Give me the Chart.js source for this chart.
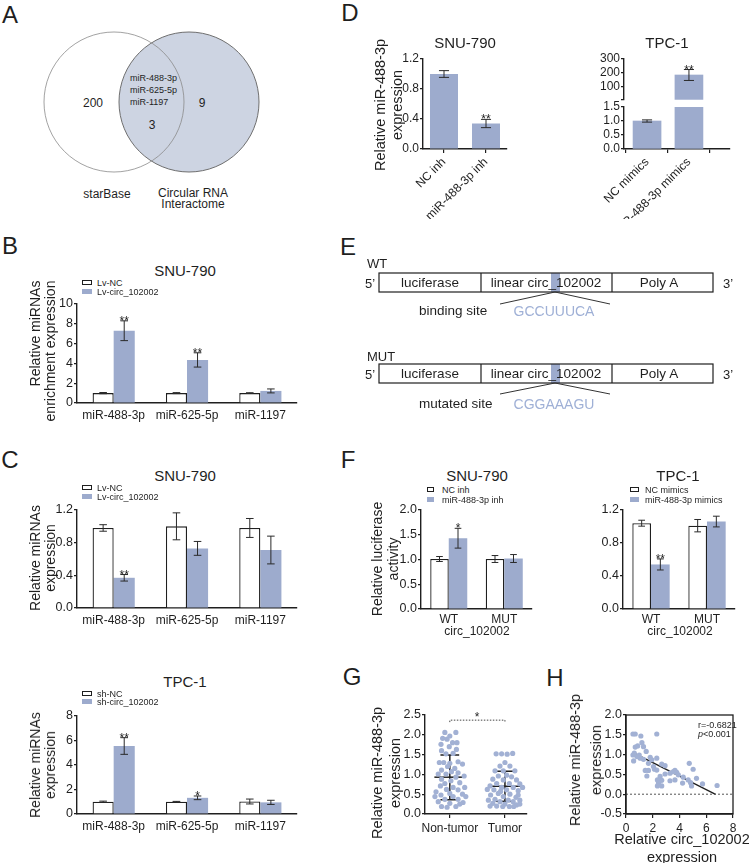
<!DOCTYPE html>
<html>
<head>
<meta charset="utf-8">
<title>circ_102002 / miR-488-3p figure</title>
<script src="https://cdn.jsdelivr.net/npm/chart.js@4.4.1/dist/chart.umd.min.js"></script>
<style>
  body { margin: 0; background: #fff; }
  #fig { position: relative; width: 749px; height: 863px; overflow: hidden; font-family: Arial, 'Liberation Sans', sans-serif; color: #1f1f1f; }
  #fig canvas, #fig svg, .t, .box { position: absolute; }
  .t { white-space: nowrap; line-height: 1; }
</style>
</head>
<body>
<div id="fig">
<svg width="749" height="863" style="left:0;top:0">
  <!-- A: venn -->
  <circle cx="189" cy="102" r="70" fill="#cdd4e2" stroke="#6f6f6f" stroke-width="1"/>
  <circle cx="114" cy="102" r="70" fill="none" stroke="#8a8a8a" stroke-width="0.8"/>
  <!-- E: reporter constructs -->
  <rect x="551" y="273" width="9" height="19" fill="#9dabcd"/>
  <rect x="379" y="273" width="334" height="19" fill="none" stroke="#1f1f1f" stroke-width="1.2"/>
  <line x1="481" y1="273" x2="481" y2="292" stroke="#1f1f1f" stroke-width="1.2"/>
  <line x1="612" y1="273" x2="612" y2="292" stroke="#1f1f1f" stroke-width="1.2"/>
  <polyline points="500,304 555,292 610,304" fill="none" stroke="#333" stroke-width="1"/>
  <rect x="551" y="364" width="9" height="19" fill="#9dabcd"/>
  <rect x="379" y="364" width="334" height="19" fill="none" stroke="#1f1f1f" stroke-width="1.2"/>
  <line x1="481" y1="364" x2="481" y2="383" stroke="#1f1f1f" stroke-width="1.2"/>
  <line x1="612" y1="364" x2="612" y2="383" stroke="#1f1f1f" stroke-width="1.2"/>
  <polyline points="500,394 555,383 610,394" fill="none" stroke="#333" stroke-width="1"/>
</svg>
</div>
<script>
const F = "Arial, 'Liberation Sans', sans-serif";
const INK = '#1f1f1f';
const BLUE = '#9dabcd';
const DOT = '#a2b1d4';
Chart.defaults.font.family = F;
Chart.defaults.color = INK;

// ---- data ----
const mirCats = ['miR-488-3p', 'miR-625-5p', 'miR-1197'];

// B: enrichment in SNU-790
const bNC = [1.0, 1.0, 1.0];
const bNCErr = [0.06, 0.05, 0.04];
const bCirc = [7.3, 4.35, 1.22];
const bCircErr = [1.0, 0.72, 0.2];
const bSig = ['**', '**', ''];
const bY = [0, 10, 2, 0];

// C: SNU-790
const cSnuNC = [0.98, 1.0, 0.98];
const cSnuNCErr = [0.04, 0.165, 0.116];
const cSnuCirc = [0.37, 0.73, 0.71];
const cSnuCircErr = [0.04, 0.085, 0.17];
const cSnuSig = ['**', '', ''];
const cSnuY = [0, 1.2, 0.4, 1];

// C: TPC-1
const cTpcNC = [1.0, 1.0, 1.02];
const cTpcNCErr = [0.05, 0.03, 0.2];
const cTpcSh = [5.55, 1.32, 0.95];
const cTpcShErr = [0.68, 0.15, 0.17];
const cTpcSig = ['**', '*', ''];
const cTpcY = [0, 8, 2, 0];

// D
const dSnuCats = ['NC inh', 'miR-488-3p inh'];
const dSnuVals = [1.0, 0.34];
const dSnuErr = [0.045, 0.055];
const dSnuSig = ['', '**'];
const dSnuY = [0, 1.2, 0.4, 1];
const dTpcCats = ['NC mimics', 'miR-488-3p mimics'];
const dTpcVals = [1.0, 183];
const dTpcErr = [0.04, 40];
const dTpcSig = ['', '**'];
const dTpcHighY = [0, 300, 100, 0];
const dTpcLowY = [0, 1.5, 0.5, 1];

// F
const fCats = ['WT', 'MUT'];
const fSnuNC = [1.01, 1.01];
const fSnuNCErr = [0.05, 0.07];
const fSnuInh = [1.43, 1.02];
const fSnuInhErr = [0.2, 0.08];
const fSnuSig = ['*', ''];
const fSnuY = [0, 2, 0.5, 1];
const fTpcNC = [1.04, 1.01];
const fTpcNCErr = [0.036, 0.075];
const fTpcMim = [0.54, 1.06];
const fTpcMimErr = [0.067, 0.065];
const fTpcSig = ['**', ''];
const fTpcY = [0, 1.2, 0.4, 1];

// G
const gCats = ['Non-tumor', 'Tumor'];
const gNonVals = [2.06,2.06,1.97,1.91,1.89,1.80,1.80,1.76,1.70,1.60,1.63,1.52,1.53,1.30,1.30,1.32,1.28,1.26,1.20,1.15,1.11,1.07,1.04,1.01,1.01,0.96,0.93,0.88,0.84,0.79,0.77,0.71,0.67,0.67,0.62,0.61,0.56,0.52,0.50,0.48,0.44,0.44,0.44,0.37,0.37,0.31,0.29,0.27,0.19,0.17,0.19,0.25];
const gNonJit = [-0.09,0.11,0,-0.13,-0.05,0.05,0.13,-0.16,-0.01,-0.15,0.12,-0.07,0.06,-0.19,-0.11,0.15,0,0.23,-0.04,0.09,-0.15,0.03,0.15,-0.07,-0.21,0.26,0.11,-0.15,0.02,0.18,-0.09,-0.17,0.27,0.06,-0.06,0.15,-0.25,0,0.23,-0.16,-0.27,0.06,0.29,-0.09,0.15,-0.21,0.24,0,-0.15,-0.05,0.11,0.18];
const gTumVals = [1.52,1.52,1.51,1.53,1.30,1.21,1.21,1.09,1.09,1.09,0.98,0.96,0.94,0.88,0.86,0.86,0.77,0.77,0.76,0.71,0.67,0.67,0.61,0.61,0.59,0.52,0.50,0.48,0.44,0.42,0.37,0.35,0.35,0.35,0.31,0.31,0.27,0.25,0.23,0.20,0.19,0.19,0.19,0.20,0.25,0.57,0.67,0.62,0.48];
const gTumJit = [-0.16,-0.06,0.04,0.14,0,-0.09,0.09,-0.18,-0.03,0.18,0.03,-0.12,0.12,-0.22,-0.03,0.21,-0.15,0.08,0.27,-0.27,-0.06,0.15,-0.2,0.03,0.24,-0.12,0.09,-0.26,-0.03,0.2,-0.18,-0.3,0.06,0.27,-0.09,0.15,-0.22,0,0.21,-0.15,-0.04,0.08,0.16,-0.27,0.27,-0.08,0.32,-0.32,0.24];
const gMean = [0.93, 0.70];
const gSdLow = [0.36, 0.32];
const gSdHigh = [1.49, 1.08];
const gBracket = 2.37;
const gY = [0, 2.5, 0.5, 1];

// H
const hX = [0.52,0.69,1.11,2.30,1.19,0.87,1.31,0.69,0.62,0.52,0.99,1.51,1.06,0.82,0.57,1.31,1.81,1.93,2.30,1.68,2.67,2.92,1.44,1.68,2.13,2.30,2.05,1.56,2.55,3.29,3.66,3.79,3.91,2.35,2.67,2.43,3.29,3.66,4.28,4.73,5.02,4.65,4.83,4.90,5.27,5.72,6.81,2.35,2.67,4.23,2.92,3.54];
const hY = [1.52,1.52,1.47,1.52,1.30,1.22,1.20,1.19,1.04,0.99,0.99,1.08,0.91,0.95,0.84,0.88,0.93,0.87,0.91,0.78,0.76,0.72,0.60,0.60,0.63,0.61,0.70,0.46,0.45,0.53,0.60,0.55,0.49,0.36,0.35,0.28,0.34,0.36,0.43,0.78,0.63,0.36,0.29,0.21,0.40,0.26,0.22,0.21,0.21,0.28,0.51,0.57];
const hFitX = [0.6, 6.7];
const hSlope = -0.171, hIntercept = 1.14;
const hXT = [0, 8, 2, 0];
const hYT = [-0.5, 2, 0.5, 1];

const fig = document.getElementById('fig');

// ---- html text ----
function txt(html, x, y, size, opt) {
  opt = opt || {};
  const d = document.createElement('div');
  d.className = 't';
  d.innerHTML = html;
  d.style.left = x + 'px';
  d.style.top = y + 'px';
  d.style.fontSize = size + 'px';
  if (opt.color) d.style.color = opt.color;
  if (opt.lh) { d.style.lineHeight = opt.lh + 'px'; d.style.textAlign = opt.ta || 'center'; }
  const ax = opt.align === 'left' ? '0' : (opt.align === 'right' ? '-100%' : '-50%');
  d.style.transform = 'translate(' + ax + ',-50%)' + (opt.rot ? ' rotate(' + opt.rot + 'deg)' : '');
  fig.appendChild(d);
}

function key(x, y, w, h, filled, label, tx) {
  const b = document.createElement('div');
  b.className = 'box';
  Object.assign(b.style, {
    left: x + 'px', top: y + 'px', width: w + 'px', height: h + 'px', boxSizing: 'border-box',
    background: filled ? BLUE : '#fff', border: filled ? 'none' : '1px solid ' + INK
  });
  fig.appendChild(b);
  txt(label, tx, y + h / 2, 9, {align: 'left'});
}

// ---- plugins ----
const errorBars = {
  id: 'errorBars',
  afterDatasetsDraw(chart) {
    const ctx = chart.ctx, y = chart.scales.y;
    chart.data.datasets.forEach((ds, i) => {
      if (!ds.err) return;
      chart.getDatasetMeta(i).data.forEach((bar, j) => {
        const raw = ds.data[j];
        const v = raw !== null && typeof raw === 'object' ? raw.y : raw;
        if (v == null || v > y.max) return;
        const e = ds.err[j];
        const top = y.getPixelForValue(v + e), bot = y.getPixelForValue(v - e);
        const cap = Math.max(3, bar.width * 0.18);
        ctx.save();
        ctx.strokeStyle = '#2a2a2a';
        ctx.lineWidth = 1;
        ctx.beginPath();
        ctx.moveTo(bar.x, top); ctx.lineTo(bar.x, bot);
        ctx.moveTo(bar.x - cap, top); ctx.lineTo(bar.x + cap, top);
        ctx.moveTo(bar.x - cap, bot); ctx.lineTo(bar.x + cap, bot);
        ctx.stroke();
        const s = ds.sig && ds.sig[j];
        if (s) {
          ctx.fillStyle = INK;
          ctx.font = '12px ' + F;
          ctx.textAlign = 'center';
          ctx.textBaseline = 'alphabetic';
          ctx.fillText(s, bar.x, top + 4);
        }
        ctx.restore();
      });
    });
  }
};

const frame = {
  id: 'frame',
  afterDraw(chart) {
    const a = chart.chartArea, ctx = chart.ctx;
    ctx.save();
    ctx.strokeStyle = INK;
    ctx.lineWidth = 1.3;
    ctx.strokeRect(a.left, a.top, a.right - a.left, a.bottom - a.top);
    ctx.restore();
  }
};

// ---- chart helpers ----
function place(plot, m, cfg) {
  const [l, t, r, b] = plot;
  const [ml, mt, mr, mb] = m;
  const w = r - l + ml + mr, h = b - t + mt + mb;
  const c = document.createElement('canvas');
  c.width = w; c.height = h;
  Object.assign(c.style, {left: (l - ml) + 'px', top: (t - mt) + 'px', width: w + 'px', height: h + 'px'});
  fig.appendChild(c);
  const o = cfg.options;
  o.responsive = false;
  o.animation = false;
  o.devicePixelRatio = 1;
  o.layout = {padding: {left: 0, top: mt, right: mr, bottom: 0}};
  o.plugins = Object.assign({legend: {display: false}, tooltip: {enabled: false}}, o.plugins || {});
  o.scales.x.afterFit = s => { s.height = mb; };
  o.scales.y.afterFit = s => { s.width = ml; };
  return new Chart(c, cfg);
}

function tickList(t) {
  const out = [];
  const n = Math.round((t[1] - t[0]) / t[2]);
  for (let k = 0; k <= n; k++) out.push(+(t[0] + k * t[2]).toFixed(6));
  return out;
}

function yScale(t, size, hideZero) {
  const vals = tickList(t);
  return {
    min: t[0], max: t[1],
    afterBuildTicks: s => { s.ticks = vals.map(v => ({value: v})); },
    ticks: {
      autoSkip: false, padding: 1, color: INK, font: {size: size || 12.5},
      callback: v => (hideZero && v === 0) ? '' : Number(v).toFixed(t[3])
    },
    grid: {display: true, drawOnChartArea: false, drawTicks: true, tickLength: 3, color: INK, lineWidth: 1.2},
    border: {display: true, color: INK, width: 1.4}
  };
}

function xCat(pad, withTicks, rot) {
  return {
    type: 'category', offset: true,
    ticks: {padding: pad, color: INK, font: {size: 12}, autoSkip: false, minRotation: rot || 0, maxRotation: rot || 0},
    grid: {display: !!withTicks, drawOnChartArea: false, drawTicks: !!withTicks, tickLength: 4, color: INK, lineWidth: 1.2, offset: false},
    border: {display: true, color: INK, width: 1.4}
  };
}

function xLin(min, max, pos, labels, pad, rot, withTicks) {
  return {
    type: 'linear', min, max, offset: false,
    afterBuildTicks: s => { s.ticks = pos.map(v => ({value: v})); },
    ticks: {padding: pad, color: INK, font: {size: 12}, autoSkip: false, minRotation: rot || 0, maxRotation: rot || 0,
      callback: v => labels ? labels[pos.indexOf(v)] : String(v)},
    grid: {display: !!withTicks, drawOnChartArea: false, drawTicks: !!withTicks, tickLength: 4, color: INK, lineWidth: 1.2},
    border: {display: true, color: INK, width: 1.4}
  };
}

function pair(nc, ncErr, tr, trErr, sig, pct) {
  return [
    {data: nc, err: ncErr, backgroundColor: '#fff', borderColor: INK, borderWidth: 1.3, categoryPercentage: pct, barPercentage: 1},
    {data: tr, err: trErr, sig: sig, backgroundColor: BLUE, borderWidth: 0, categoryPercentage: pct, barPercentage: 1}
  ];
}

function groupedBars(plot, labels, datasets, yt, pad) {
  return place(plot, [30, 10, 6, 20], {
    type: 'bar',
    data: {labels, datasets},
    options: {scales: {x: xCat(pad), y: yScale(yt)}},
    plugins: [errorBars]
  });
}

// ---- B, C ----
groupedBars([77, 304, 297, 403], mirCats, pair(bNC, bNCErr, bCirc, bCircErr, bSig, 0.575), bY, 5);
groupedBars([77, 510, 297, 608], mirCats, pair(cSnuNC, cSnuNCErr, cSnuCirc, cSnuCircErr, cSnuSig, 0.575), cSnuY, 5);
groupedBars([77, 716, 297, 814], mirCats, pair(cTpcNC, cTpcNCErr, cTpcSh, cTpcShErr, cTpcSig, 0.575), cTpcY, 5);

// ---- D ----
place([423, 59, 507, 149], [30, 10, 6, 70], {
  type: 'bar',
  data: {labels: dSnuCats, datasets: [{data: dSnuVals, err: dSnuErr, sig: dSnuSig, backgroundColor: BLUE, borderWidth: 0, categoryPercentage: 1, barPercentage: 0.667}]},
  options: {scales: {x: xCat(2, true, 45), y: yScale(dSnuY, 12)}},
  plugins: [errorBars]
});

const dPos = dTpcCats.map((c, i) => i);
place([624, 59, 730, 100], [30, 10, 6, 10], {
  type: 'bar',
  data: {datasets: [{data: dTpcVals.map((v, i) => ({x: dPos[i], y: v > dTpcLowY[1] ? v : null})), err: dTpcErr, sig: dTpcSig,
    backgroundColor: BLUE, borderWidth: 0, barThickness: 28}]},
  options: {scales: {
    x: Object.assign(xLin(-0.55, 1.98, dPos, dTpcCats, 2, 0, false), {ticks: {display: false}, border: {display: false}}),
    y: yScale(dTpcHighY, 12, true)
  }},
  plugins: [errorBars]
});
place([624, 107, 730, 149], [30, 10, 6, 70], {
  type: 'bar',
  data: {datasets: [{data: dTpcVals.map((v, i) => ({x: dPos[i], y: v})), err: dTpcErr, sig: dTpcSig,
    backgroundColor: BLUE, borderWidth: 0, barThickness: 28}]},
  options: {scales: {x: xLin(-0.55, 1.98, dPos, dTpcCats, 2, 45, true), y: yScale(dTpcLowY, 12)}},
  plugins: [errorBars]
});

// ---- F ----
place([421, 510, 532, 609], [30, 10, 6, 20], {
  type: 'bar',
  data: {labels: fCats, datasets: pair(fSnuNC, fSnuNCErr, fSnuInh, fSnuInhErr, fSnuSig, 0.667)},
  options: {scales: {x: xCat(3), y: yScale(fSnuY)}},
  plugins: [errorBars]
});
place([623, 510, 735, 609], [30, 10, 6, 20], {
  type: 'bar',
  data: {labels: fCats, datasets: pair(fTpcNC, fTpcNCErr, fTpcMim, fTpcMimErr, fTpcSig, 0.667)},
  options: {scales: {x: xCat(3), y: yScale(fTpcY)}},
  plugins: [errorBars]
});

// ---- G ----
function seg(pts, extra) {
  return Object.assign({type: 'line', data: pts, borderColor: INK, borderWidth: 1.5, pointRadius: 0, fill: false}, extra || {});
}
const gPos = [0, 1];
const gSets = [
  {data: gNonVals.map((v, i) => ({x: gPos[0] + gNonJit[i], y: v})), backgroundColor: DOT, borderWidth: 0, pointRadius: 2.6},
  {data: gTumVals.map((v, i) => ({x: gPos[1] + gTumJit[i], y: v})), backgroundColor: DOT, borderWidth: 0, pointRadius: 2.6}
];
gPos.forEach((p, i) => {
  gSets.push(seg([{x: p - 0.28, y: gMean[i]}, {x: p + 0.28, y: gMean[i]}]));
  gSets.push(seg([{x: p, y: gSdLow[i]}, {x: p, y: gSdHigh[i]}]));
  gSets.push(seg([{x: p - 0.17, y: gSdLow[i]}, {x: p + 0.17, y: gSdLow[i]}]));
  gSets.push(seg([{x: p - 0.17, y: gSdHigh[i]}, {x: p + 0.17, y: gSdHigh[i]}]));
});
gSets.push(seg([{x: gPos[0], y: gBracket - 0.05}, {x: gPos[0], y: gBracket}, {x: gPos[1], y: gBracket}, {x: gPos[1], y: gBracket - 0.05}],
  {borderWidth: 1, borderColor: '#444', borderDash: [1.5, 1.5]}));
place([425, 715, 527, 814], [30, 10, 8, 20], {
  type: 'scatter',
  data: {datasets: gSets},
  options: {scales: {x: xLin(-0.45, 1.4, gPos, gCats, 3, 0, true), y: yScale(gY)}}
});

// ---- H ----
place([626, 715, 733, 814], [30, 10, 10, 20], {
  type: 'scatter',
  data: {datasets: [
    seg([{x: hXT[0], y: 0}, {x: hXT[1], y: 0}], {borderWidth: 1, borderColor: '#555', borderDash: [2, 2]}),
    {data: hX.map((x, i) => ({x, y: hY[i]})), backgroundColor: DOT, borderWidth: 0, pointRadius: 2.6},
    seg(hFitX.map(x => ({x, y: hIntercept + hSlope * x})), {borderWidth: 1.3})
  ]},
  options: {scales: {
    x: xLin(hXT[0], hXT[1], tickList(hXT), null, 3, 0, true),
    y: yScale(hYT)
  }},
  plugins: [frame]
});

// ---- text: panel letters ----
[['A', 10, 15], ['D', 350, 13], ['B', 10, 246], ['E', 348, 247], ['C', 10, 460], ['F', 348, 460], ['G', 352, 677], ['H', 555, 678]]
  .forEach(([s, x, y]) => txt(s, x, y, 24));

// A
txt('miR-488-3p', 130, 78, 9, {align: 'left'});
txt('miR-625-5p', 130, 90, 9, {align: 'left'});
txt('miR-1197', 130, 102, 9, {align: 'left'});
txt('200', 93, 103, 12);
txt('9', 202, 103, 12);
txt('3', 152, 125, 12);
txt('starBase', 107, 194, 12);
txt('Circular RNA', 193, 193, 12);
txt('Interactome', 193, 204, 12);

// B
txt('SNU-790', 185, 270, 15);
key(82, 280, 10, 5, false, 'Lv-NC', 97);
key(82, 289, 10, 5, true, 'Lv-circ_102002', 97);
txt('Relative miRNAs<br>enrichment expression', 42.5, 350.5, 14, {rot: -90, lh: 15, ta: 'right'});

// C
txt('SNU-790', 185, 475, 15);
key(82, 485, 10, 5, false, 'Lv-NC', 97);
key(82, 494, 10, 5, true, 'Lv-circ_102002', 97);
txt('Relative miRNAs<br>expression', 42.5, 558, 14, {rot: -90, lh: 15});
txt('TPC-1', 185, 681, 15);
key(82, 691, 10, 5, false, 'sh-NC', 97);
key(82, 699, 10, 5, true, 'sh-circ_102002', 97);
txt('Relative miRNAs<br>expression', 42.5, 765, 14, {rot: -90, lh: 15});

// D
txt('SNU-790', 465, 42, 15);
txt('TPC-1', 667, 42, 15);
txt('Relative miR-488-3p<br>expression', 388.5, 105, 14.5, {rot: -90, lh: 17});

// E
txt('WT', 367, 262.5, 13, {align: 'left'});
txt('5\u2019', 370, 282.5, 13);
txt('luciferase', 430, 283, 13.5);
txt('linear circ_102002', 546, 283, 13.5);
txt('Poly A', 659, 283, 13.5);
txt('3\u2019', 728, 283, 13);
txt('binding site', 419, 311, 13.5, {align: 'left'});
txt('GCCUUUCA', 554, 311, 14, {color: '#9fb0d6'});
txt('MUT', 367, 356, 13, {align: 'left'});
txt('5\u2019', 370, 373.5, 13);
txt('luciferase', 430, 374, 13.5);
txt('linear circ_102002', 546, 374, 13.5);
txt('Poly A', 659, 374, 13.5);
txt('3\u2019', 728, 374, 13);
txt('mutated site', 419, 404, 13.5, {align: 'left'});
txt('CGGAAAGU', 554, 404, 14, {color: '#9fb0d6'});

// F
txt('SNU-790', 477, 475, 15);
key(427, 487, 7, 5, false, 'NC inh', 442);
key(427, 497, 7, 5, true, 'miR-488-3p inh', 442);
txt('circ_102002', 477, 631, 12);
txt('TPC-1', 678, 475, 15);
key(630, 487, 9, 5, false, 'NC mimics', 645);
key(630, 497, 9, 5, true, 'miR-488-3p mimics', 645);
txt('circ_102002', 680, 631, 12);
txt('Relative luciferase<br>activity', 385, 559, 14, {rot: -90, lh: 16});

// G
txt('*', 477, 717, 12);
txt('Relative miR-488-3p<br>expression', 386, 773, 14.5, {rot: -90, lh: 18});

// H
txt('r=-0.6821', 698, 725, 9, {align: 'left'});
txt('<i>p</i>&lt;0.001', 698, 733.5, 9, {align: 'left'});
txt('Relative miR-488-3p<br>expression', 586, 760, 14.5, {rot: -90, lh: 21});
txt('Relative circ_102002<br>expression', 682, 848, 14.5, {lh: 18});
</script>
</body>
</html>
